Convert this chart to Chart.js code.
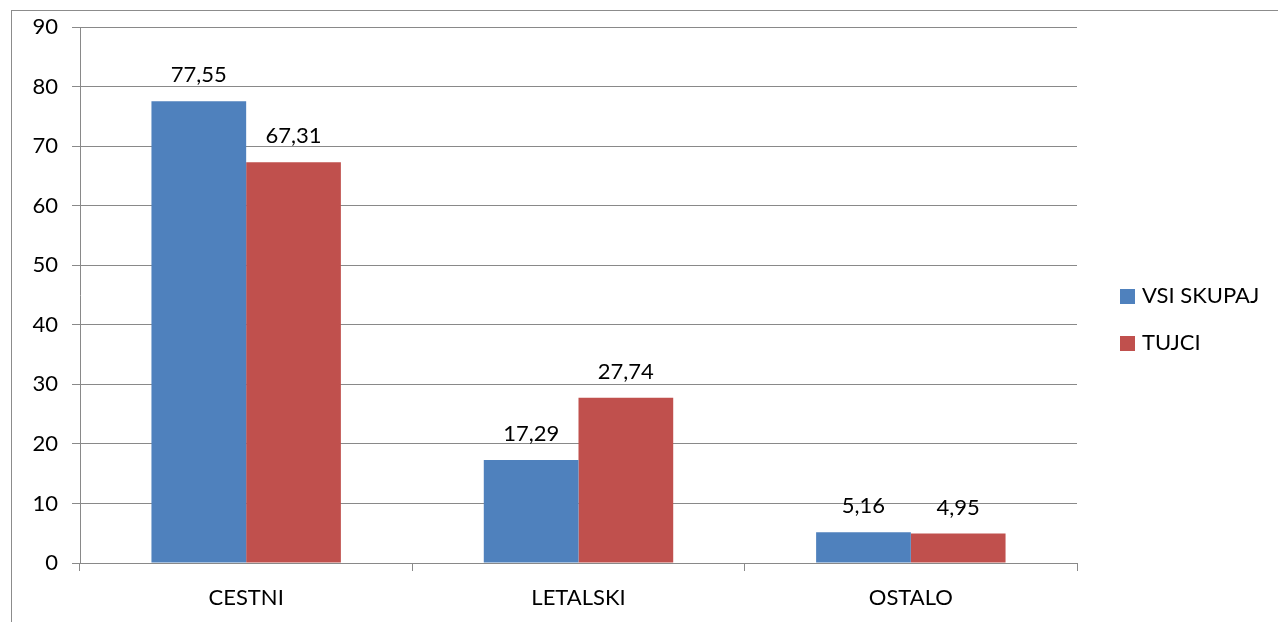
<!DOCTYPE html>
<html>
<head>
<meta charset="utf-8">
<script src="https://cdn.jsdelivr.net/npm/chart.js@4"></script>
<style>
    html, body { margin: 0; padding: 0; background: #fff; overflow: hidden; }
    #wrap { position: relative; width: 1278px; height: 622px; }
    #frame { position: absolute; left: 11px; top: 10px; width: 1400px; height: 800px; border: 1px solid #8c8c8c; box-sizing: border-box; }
    canvas { position: absolute; left: 0; top: 0; }
</style>
</head>
<body>
<div id="wrap">
    <div id="frame"></div>
    <canvas id="barChart" width="1278" height="622"></canvas>
</div>
<script>
// chart data
const categories = ['CESTNI', 'LETALSKI', 'OSTALO'];
const seriesNames = ['VSI SKUPAJ', 'TUJCI'];
const vsiSkupaj = [77.55, 17.29, 5.16];
const tujci = [67.31, 27.74, 4.95];
const yTicks = [0, 10, 20, 30, 40, 50, 60, 70, 80, 90];

const FONT = 'Lato, "Open Sans", sans-serif';
const FONT_SIZE = 22;
const gridGrey = '#898989';

// value labels above each bar, decimal comma
const valueLabels = {
    id: 'valueLabels',
    afterDatasetsDraw(chart) {
        const ctx = chart.ctx;
        ctx.save();
        ctx.font = FONT_SIZE + 'px ' + FONT;
        ctx.fillStyle = '#000';
        ctx.textAlign = 'center';
        ctx.textBaseline = 'middle';
        chart.data.datasets.forEach((ds, i) => {
            chart.getDatasetMeta(i).data.forEach((bar, j) => {
                const txt = ds.data[j].toFixed(2).replace('.', ',');
                ctx.fillText(txt, bar.x, bar.y - 26);
            });
        });
        ctx.restore();
    }
};

// legend on the right, drawn by hand so it sits where the original has it
const sideLegend = {
    id: 'sideLegend',
    afterDraw(chart) {
        const ctx = chart.ctx;
        ctx.save();
        ctx.font = FONT_SIZE + 'px ' + FONT;
        ctx.textBaseline = 'middle';
        ctx.textAlign = 'left';
        chart.data.datasets.forEach((ds, i) => {
            const cy = 296 + i * 47;
            ctx.fillStyle = ds.backgroundColor;
            ctx.fillRect(1120, cy - 7, 15, 15);
            ctx.fillStyle = '#000';
            ctx.fillText(ds.label, 1142, cy);
        });
        ctx.restore();
    }
};

document.addEventListener('DOMContentLoaded', function() {
    const ctx = document.getElementById('barChart').getContext('2d');
    new Chart(ctx, {
        type: 'bar',
        data: {
            labels: categories,
            datasets: [
                { label: seriesNames[0], data: vsiSkupaj, backgroundColor: '#4f81bd' },
                { label: seriesNames[1], data: tujci, backgroundColor: '#c0504d' }
            ]
        },
        options: {
            responsive: false,
            animation: false,
            devicePixelRatio: 1,
            categoryPercentage: 0.57,
            barPercentage: 1,
            layout: { padding: { left: 0, top: 27, right: 201, bottom: 0 } },
            plugins: {
                legend: { display: false },
                tooltip: { enabled: false }
            },
            scales: {
                x: {
                    grid: {
                        offset: true,
                        drawOnChartArea: false,
                        tickLength: 8,
                        color: gridGrey
                    },
                    border: { color: gridGrey },
                    ticks: {
                        color: '#000',
                        padding: 14,
                        font: { family: FONT, size: FONT_SIZE }
                    },
                    afterFit(scale) { scale.height = 59; }
                },
                y: {
                    min: 0,
                    max: 90,
                    afterBuildTicks(scale) { scale.ticks = yTicks.map(v => ({ value: v })); },
                    grid: { color: gridGrey, tickLength: 8 },
                    border: { color: gridGrey },
                    ticks: {
                        color: '#000',
                        padding: 14,
                        font: { family: FONT, size: FONT_SIZE }
                    },
                    afterFit(scale) { scale.width = 80; }
                }
            }
        },
        plugins: [valueLabels, sideLegend]
    });
});
</script>
</body>
</html>
